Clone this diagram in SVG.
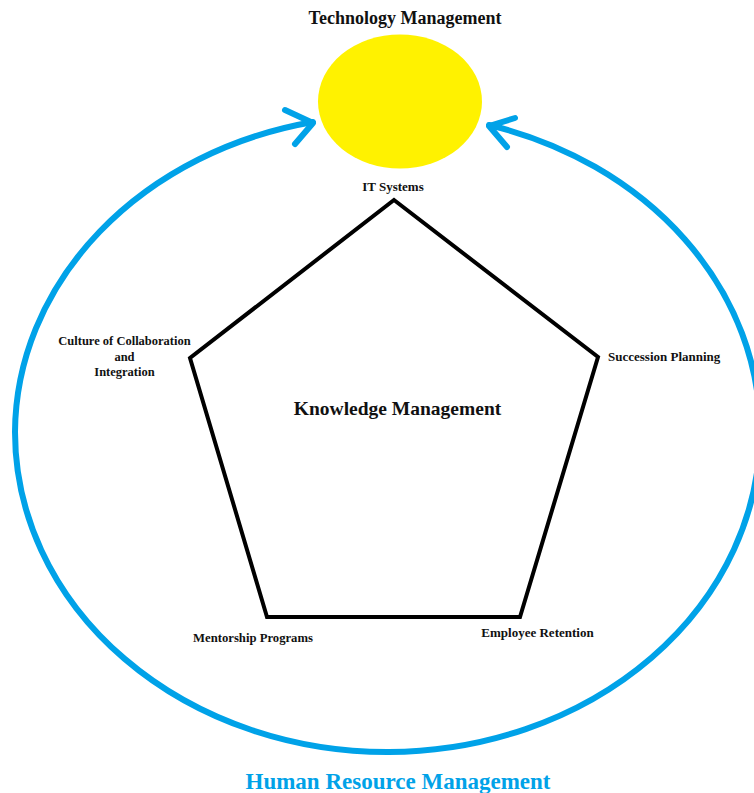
<svg xmlns="http://www.w3.org/2000/svg" width="754" height="793" viewBox="0 0 754 793">
<style>
.lbl{font-family:"Liberation Serif","Times New Roman",serif;font-weight:bold;fill:#111;}
.blue{fill:none;stroke:#00A2E8;stroke-width:6;stroke-linecap:round;stroke-linejoin:round;}
</style>
<rect width="754" height="793" fill="#ffffff"/>
<g id="connectors">
  <path class="blue" d="M 313 122 A 372 318 0 0 0 15 432 A 372 320 0 0 0 389 752 A 373 320 0 0 0 760 432 A 372 318 0 0 0 489 125"/>
  <polyline class="blue" points="285,110 313,123 295,144"/>
  <polyline class="blue" points="515,118 489,126 507,147"/>
</g>
<g id="technology-management">
  <ellipse cx="400" cy="101.5" rx="82" ry="67" fill="#FFF200"/>
  <text class="lbl" x="405" y="24" font-size="18" text-anchor="middle">Technology Management</text>
</g>
<g id="knowledge-management">
  <polygon points="394,200 598,357 520,617 267,617 190,358" fill="none" stroke="#000" stroke-width="4" stroke-linejoin="miter"/>
  <text class="lbl" x="397.5" y="415" font-size="19.5" text-anchor="middle">Knowledge Management</text>
</g>
<g id="it-systems">
  <text class="lbl" x="393" y="191" font-size="13" text-anchor="middle">IT Systems</text>
</g>
<g id="succession-planning">
  <text class="lbl" x="608" y="361" font-size="13">Succession Planning</text>
</g>
<g id="employee-retention">
  <text class="lbl" x="537.5" y="637" font-size="13" text-anchor="middle">Employee Retention</text>
</g>
<g id="mentorship-programs">
  <text class="lbl" x="253" y="642" font-size="12.7" text-anchor="middle">Mentorship Programs</text>
</g>
<g id="culture-of-collaboration">
  <text class="lbl" x="124.5" y="345" font-size="12.5" text-anchor="middle">Culture of Collaboration</text>
  <text class="lbl" x="124.5" y="361" font-size="12.5" text-anchor="middle">and</text>
  <text class="lbl" x="124.5" y="376" font-size="12.5" text-anchor="middle">Integration</text>
</g>
<g id="human-resource-management">
  <text x="398" y="789" font-size="23" text-anchor="middle" font-family="Liberation Serif, Times New Roman, serif" font-weight="bold" fill="#00A2E8">Human Resource Management</text>
</g>
</svg>
